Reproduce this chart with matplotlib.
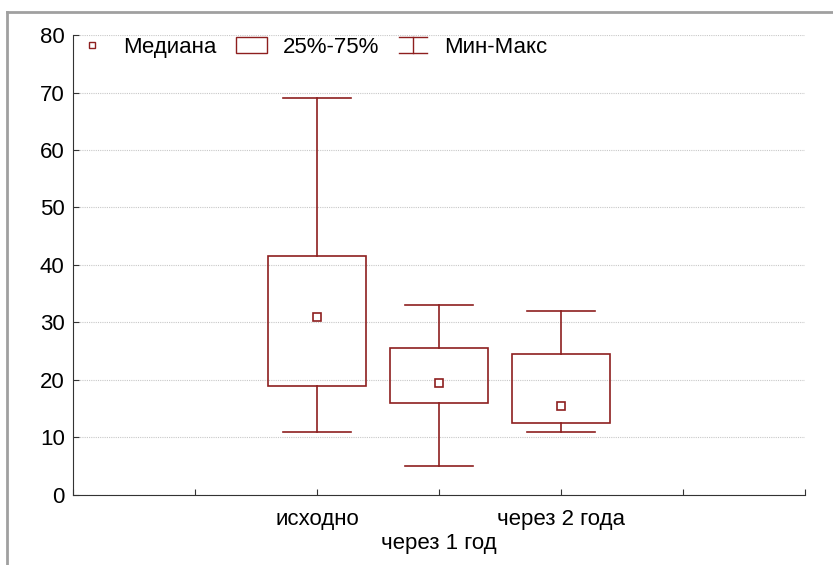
import matplotlib.pyplot as plt
from matplotlib.lines import Line2D
from matplotlib.patches import Rectangle
from matplotlib.legend_handler import HandlerBase

plt.rcParams['font.family'] = ['Liberation Sans', 'DejaVu Sans']

groups = ["исходно", "через 1 год", "через 2 года"]
positions = [2, 3, 4]
mins = [11, 5, 11]
q1 = [19, 16, 12.5]
medians = [31, 19.5, 15.5]
q3 = [41.5, 25.5, 24.5]
maxs = [69, 33, 32]

red = "#8e1f1f"


class MinMaxHandler(HandlerBase):
    def create_artists(self, legend, orig_handle, xdescent, ydescent,
                       width, height, fontsize, trans):
        cx = width / 2 - xdescent
        top = height * 1.0
        bot = height * 0.0
        hw = width * 0.45
        arts = [
            Line2D([cx, cx], [bot, top], color=red, lw=1),
            Line2D([cx - hw, cx + hw], [top, top], color=red, lw=1),
            Line2D([cx - hw, cx + hw], [bot, bot], color=red, lw=1),
        ]
        for a in arts:
            a.set_transform(trans)
        return arts


fig = plt.figure(figsize=(8.33, 5.65), dpi=100)
ax = fig.add_axes([0.0876, 0.124, 0.879, 0.814])

box_w = 0.8
cap_w = 0.56
for p, lo, a, m, b, hi in zip(positions, mins, q1, medians, q3, maxs):
    ax.add_patch(Rectangle((p - box_w / 2, a), box_w, b - a, fill=False,
                           edgecolor=red, lw=1.2))
    ax.plot([p, p], [b, hi], color=red, lw=1.2)
    ax.plot([p, p], [lo, a], color=red, lw=1.2)
    ax.plot([p - cap_w / 2, p + cap_w / 2], [hi, hi], color=red, lw=1.2)
    ax.plot([p - cap_w / 2, p + cap_w / 2], [lo, lo], color=red, lw=1.2)
    ax.plot([p], [m], marker="s", ms=6, mfc="white", mec=red, mew=1.2)

ax.set_xlim(0, 6)
ax.set_ylim(0, 80)
ax.set_yticks(range(0, 81, 10))
ax.set_xticks(range(0, 7))
xlabels = ["", ""] + [groups[0], "\n" + groups[1], groups[2]] + ["", ""]
ax.set_xticklabels(xlabels)
ax.tick_params(direction="in", labelsize=16, length=4, color="#333333")
ax.tick_params(axis="x", pad=10)
ax.tick_params(axis="y", pad=6)
ax.grid(axis="y", color="#c8c8c8", ls=(0, (1, 1)), lw=0.8)
ax.set_axisbelow(True)
for s in ["top", "right"]:
    ax.spines[s].set_visible(False)
ax.spines["left"].set_color("#333333")
ax.spines["bottom"].set_color("#333333")

h_med = Line2D([], [], ls="none", marker="s", ms=5, mfc="white", mec=red, mew=1)
h_box = Rectangle((0, 0), 1, 1, fill=False, edgecolor=red, lw=1)
h_mm = object()
ax.legend([h_med, h_box, h_mm], ["Медиана", "25%-75%", "Мин-Макс"],
          handler_map={object: MinMaxHandler()}, ncol=3, frameon=False,
          loc="upper left", bbox_to_anchor=(-0.019, 1.035), fontsize=16,
          handlelength=1.4, columnspacing=0.85, handletextpad=0.7,
          borderpad=0.3)

fig.add_artist(Line2D([0.008, 0.008], [0, 0.979], transform=fig.transFigure,
                      color="#a0a0a0", lw=2))
fig.add_artist(Line2D([0.008, 1], [0.979, 0.979], transform=fig.transFigure,
                      color="#a0a0a0", lw=2))

fig.savefig("out.png", dpi=100)
